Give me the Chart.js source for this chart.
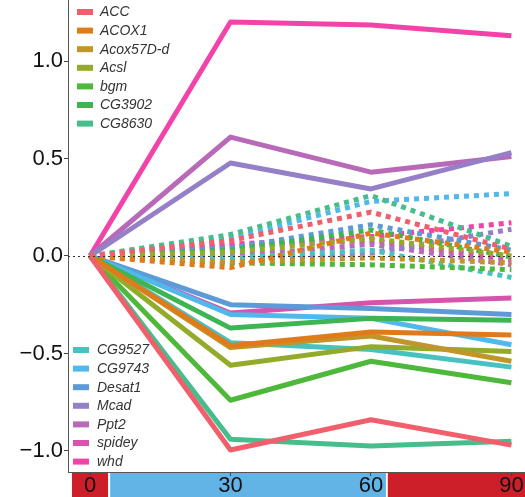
<!DOCTYPE html>
<html>
<head>
<meta charset="utf-8">
<script src="https://cdn.jsdelivr.net/npm/chart.js@4/dist/chart.umd.min.js"></script>
<style>
  html, body { margin: 0; padding: 0; background: #ffffff; }
  #wrap { width: 525px; height: 497px; position: relative; }
</style>
</head>
<body>
<div id="wrap"><canvas id="c" width="525" height="497"></canvas></div>
<script>
// Time points (minutes)
const times = [0, 30, 60, 90];
const xTicks = [0, 30, 60, 90];
const yTicks = [-1.0, -0.5, 0.0, 0.5, 1.0];

const genes = ['ACC', 'ACOX1', 'Acox57D-d', 'Acsl', 'bgm', 'CG3902', 'CG8630',
               'CG9527', 'CG9743', 'Desat1', 'Mcad', 'Ppt2', 'spidey', 'whd'];

const geneColors = ['#F15F6C', '#E07B1C', '#C0962A', '#93AB2A', '#4DB83A', '#3DB552', '#46BE8C',
                    '#47C2C0', '#50B8EA', '#5C9AD8', '#9580C8', '#B86AB8', '#D653AE', '#F244A8'];

// log fold change, solid series
const solidValues = [
  [0, -0.995, -0.84, -0.97],   // ACC
  [0, -0.46, -0.39, -0.405],   // ACOX1
  [0, -0.47, -0.41, -0.54],    // Acox57D-d
  [0, -0.56, -0.465, -0.49],   // Acsl
  [0, -0.74, -0.54, -0.65],    // bgm
  [0, -0.37, -0.32, -0.33],    // CG3902
  [0, -0.94, -0.975, -0.95],   // CG8630
  [0, -0.445, -0.48, -0.57],   // CG9527
  [0, -0.30, -0.32, -0.455],   // CG9743
  [0, -0.25, -0.27, -0.30],    // Desat1
  [0, 0.477, 0.344, 0.53],     // Mcad
  [0, 0.61, 0.43, 0.51],       // Ppt2
  [0, -0.293, -0.24, -0.216],  // spidey
  [0, 1.20, 1.185, 1.13]       // whd
];

// log fold change, dotted series
const dottedValues = [
  [0, 0.08, 0.225, 0.035],     // ACC
  [0, -0.06, 0.118, 0.02],     // ACOX1
  [0, -0.03, -0.01, -0.035],   // Acox57D-d
  [0, 0.02, 0.09, 0.0],        // Acsl
  [0, -0.035, -0.045, -0.07],  // bgm
  [0, 0.03, 0.133, -0.005],    // CG3902
  [0, 0.11, 0.31, 0.05],       // CG8630
  [0, -0.01, 0.03, -0.11],     // CG9527
  [0, 0.09, 0.28, 0.32],       // CG9743
  [0, 0.04, 0.16, 0.03],       // Desat1
  [0, -0.02, 0.015, 0.137],    // Mcad
  [0, 0.0, 0.06, -0.045],      // Ppt2
  [0, 0.05, 0.08, -0.02],      // spidey
  [0, 0.06, 0.10, 0.17]        // whd
];

// Phase strip under the x axis
const stripFrom = [-3.85, 4.3, 63.6];
const stripTo = [3.85, 63.2, 110];
const stripColors = ['#CD1F2A', '#62B4E6', '#CD1F2A'];

const datasets = [];
genes.forEach((g, i) => {
  datasets.push({
    label: g + ' (dotted)',
    data: times.map((t, k) => ({ x: t, y: dottedValues[i][k] })),
    borderColor: geneColors[i],
    borderWidth: 5,
    borderDash: [5, 5],
    borderCapStyle: 'butt',
    borderJoinStyle: 'round',
    pointRadius: 0,
    fill: false,
    tension: 0
  });
});
genes.forEach((g, i) => {
  datasets.push({
    label: g,
    data: times.map((t, k) => ({ x: t, y: solidValues[i][k] })),
    borderColor: geneColors[i],
    borderWidth: 5,
    borderCapStyle: 'butt',
    borderJoinStyle: 'round',
    pointRadius: 0,
    fill: false,
    tension: 0
  });
});

const stripPlugin = {
  id: 'phaseStrip',
  beforeDraw(chart) {
    const { ctx, chartArea, scales } = chart;
    const x = scales.x;
    ctx.save();
    for (let i = 0; i < stripFrom.length; i++) {
      const a = Math.max(x.getPixelForValue(stripFrom[i]), 0);
      const b = Math.min(x.getPixelForValue(stripTo[i]), chart.width);
      ctx.fillStyle = stripColors[i];
      ctx.fillRect(a, chartArea.bottom + 1, b - a, chart.height - chartArea.bottom - 1);
    }
    ctx.restore();
  }
};

const zeroLinePlugin = {
  id: 'zeroLine',
  afterDatasetsDraw(chart) {
    const { ctx, chartArea, scales } = chart;
    const y = Math.round(scales.y.getPixelForValue(0)) + 0.5;
    ctx.save();
    ctx.strokeStyle = '#333333';
    ctx.lineWidth = 1;
    ctx.setLineDash([2, 3]);
    ctx.beginPath();
    ctx.moveTo(chartArea.left, y);
    ctx.lineTo(chartArea.right, y);
    ctx.stroke();
    ctx.restore();
  }
};

const legendPlugin = {
  id: 'splitLegend',
  afterDraw(chart) {
    const { ctx } = chart;
    const blocks = [
      { start: 0, top: 12, keyX: 77, textX: 100 },
      { start: 7, top: 350, keyX: 73, textX: 97 }
    ];
    ctx.save();
    ctx.font = 'italic 14px "Liberation Sans", Arial, sans-serif';
    ctx.textBaseline = 'middle';
    ctx.textAlign = 'left';
    blocks.forEach(b => {
      for (let k = 0; k < 7; k++) {
        const i = b.start + k;
        const cy = b.top + k * 18.6;
        ctx.fillStyle = geneColors[i];
        ctx.fillRect(b.keyX, cy - 3, 16, 6);
        ctx.fillStyle = '#333333';
        ctx.fillText(genes[i], b.textX, cy + 0.5);
      }
    });
    ctx.restore();
  }
};

const fmt = v => (v < 0 ? '\u2212' : '') + Math.abs(v).toFixed(1);

new Chart(document.getElementById('c'), {
  type: 'line',
  data: { datasets },
  plugins: [stripPlugin, zeroLinePlugin, legendPlugin],
  options: {
    responsive: false,
    animation: false,
    layout: { padding: 0 },
    plugins: { legend: { display: false }, tooltip: { enabled: false } },
    scales: {
      x: {
        type: 'linear',
        min: -4.7,
        max: 92.9,
        afterBuildTicks: s => { s.ticks = xTicks.map(v => ({ value: v })); },
        afterFit: s => { s.height = 25; s.paddingLeft = 0; s.paddingRight = 0; },
        border: { display: true, color: '#555555', width: 1 },
        grid: { drawOnChartArea: false, drawTicks: true, tickLength: 4, color: '#444444' },
        ticks: {
          autoSkip: false,
          maxRotation: 0,
          padding: -3,
          color: '#111111',
          font: { family: '"Liberation Sans", Arial, sans-serif', size: 22 },
          callback: v => String(v)
        }
      },
      y: {
        type: 'linear',
        min: -1.108,
        max: 1.313,
        afterBuildTicks: s => { s.ticks = yTicks.map(v => ({ value: v })); },
        afterFit: s => { s.width = 68; s.paddingTop = 0; s.paddingBottom = 0; },
        border: { display: true, color: '#555555', width: 1 },
        grid: { drawOnChartArea: false, drawTicks: true, tickLength: 4, color: '#444444' },
        ticks: {
          padding: 1,
          color: '#111111',
          font: { family: '"Liberation Sans", Arial, sans-serif', size: 22 },
          callback: v => fmt(v)
        }
      }
    }
  }
});
</script>
</body>
</html>
